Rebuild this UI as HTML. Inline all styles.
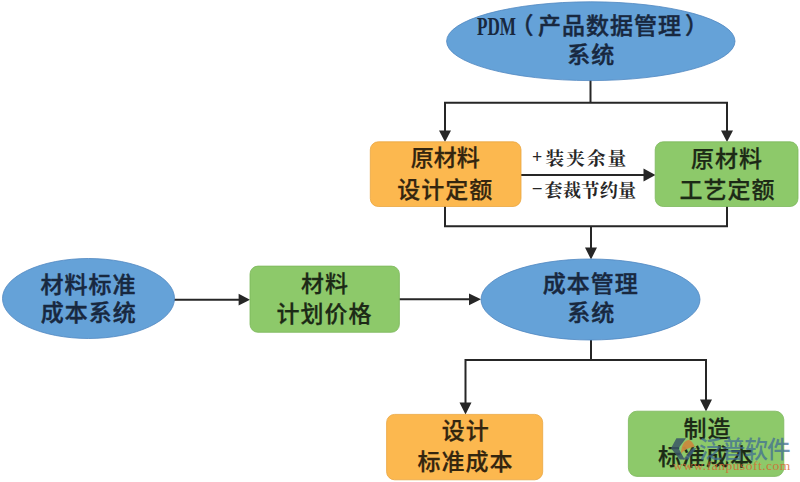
<!DOCTYPE html>
<html lang="zh-CN">
<head>
<meta charset="utf-8">
<title>成本管理系统流程图</title>
<style>
html,body{margin:0;padding:0;background:#fff;}
body{width:800px;height:482px;overflow:hidden;position:relative;}
svg{position:absolute;left:0;top:0;display:block;}
.hei{font-family:"Liberation Sans","Noto Sans CJK SC",sans-serif;font-size:23px;font-weight:500;letter-spacing:1px;stroke-width:0.45px;stroke-linejoin:round;}
.song{font-family:"Liberation Serif","Noto Serif CJK SC",serif;font-size:18px;font-weight:700;fill:#262626;}
.ln{stroke:#262626;stroke-width:2;fill:none;}
.ah{fill:#262626;}
.tb{fill:#18283f;stroke:#18283f;}
.tg{fill:#1c2a16;stroke:#1c2a16;stroke-width:0.25px;}
.to{fill:#33250f;stroke:#33250f;stroke-width:0.25px;}
</style>
</head>
<body>
<svg width="800" height="482" viewBox="0 0 800 482">
  <rect width="800" height="482" fill="#ffffff"/>

  <!-- connectors -->
  <g class="ln">
    <path d="M590.5 80 V103"/>
    <path d="M445 132 V102.8 H727 V132"/>
    <path d="M520 175 H646"/>
    <path d="M445 206 V226.3 H727 V206"/>
    <path d="M591 226.3 V250"/>
    <path d="M174 299.7 H240"/>
    <path d="M399 299.3 H472"/>
    <path d="M591 339 V360"/>
    <path d="M465.5 404 V360 H706 V402"/>
  </g>
  <g class="ah">
    <path d="M439 130.5 L451 130.5 L445 142 Z"/>
    <path d="M721 130.5 L733 130.5 L727 142 Z"/>
    <path d="M643.5 168.5 L643.5 181.5 L655.5 175 Z"/>
    <path d="M585 247.5 L597 247.5 L591 259.5 Z"/>
    <path d="M238.6 293.8 L238.6 305.6 L250 299.7 Z"/>
    <path d="M469 293.4 L469 305.2 L481 299.3 Z"/>
    <path d="M459.5 402.5 L471.5 402.5 L465.5 414.5 Z"/>
    <path d="M700 399.5 L712 399.5 L706 411.5 Z"/>
  </g>

  <!-- shapes -->
  <ellipse cx="590.8" cy="41.2" rx="144.2" ry="39.4" fill="#65a2d8" stroke="#4f87c0" stroke-width="0.8"/>
  <rect x="370.3" y="141.8" width="150.7" height="64.7" rx="8" fill="#fcb84f" stroke="#eaa640" stroke-width="0.8"/>
  <rect x="655.2" y="141.8" width="142.8" height="64.7" rx="8" fill="#8dc96a" stroke="#7cb85c" stroke-width="0.8"/>
  <ellipse cx="88.5" cy="298.5" rx="86" ry="40" fill="#65a2d8" stroke="#4f87c0" stroke-width="0.8"/>
  <rect x="250" y="266.1" width="149.4" height="66.2" rx="8" fill="#8dc96a" stroke="#7cb85c" stroke-width="0.8"/>
  <ellipse cx="590.5" cy="299.5" rx="109.5" ry="40.5" fill="#65a2d8" stroke="#4f87c0" stroke-width="0.8"/>
  <rect x="386.6" y="414.4" width="156.1" height="65.4" rx="8" fill="#fcb84f" stroke="#eaa640" stroke-width="0.8"/>
  <rect x="628.4" y="411.2" width="155.4" height="65.2" rx="8.5" fill="#8dc96a" stroke="#7cb85c" stroke-width="0.8"/>

  <!-- labels -->
  <g class="hei" text-anchor="middle">
    <g class="tb">
      <text x="496.5" y="35" textLength="39" lengthAdjust="spacingAndGlyphs" font-family="'Liberation Serif',serif" font-size="25" font-weight="700" letter-spacing="0" stroke="none">PDM</text>
      <text y="34.3" text-anchor="start"><tspan x="510.5">（</tspan><tspan x="538">产品数据管理</tspan><tspan x="685">）</tspan></text>
      <text x="591.2" y="63.1">系统</text>
      <text x="88.6" y="293.2">材料标准</text>
      <text x="88.8" y="320.9">成本系统</text>
      <text x="590.7" y="291.9">成本管理</text>
      <text x="591.3" y="320.7">系统</text>
    </g>
    <g class="to">
      <text x="445.2" y="166.2" letter-spacing="0">原材料</text>
      <text x="445.3" y="197.8">设计定额</text>
      <text x="465.7" y="439.2">设计</text>
      <text x="465.5" y="470">标准成本</text>
    </g>
    <g class="tg">
      <text x="727" y="167.2">原材料</text>
      <text x="727.5" y="198.4">工艺定额</text>
      <text x="324.9" y="292.1">材料</text>
      <text x="324.5" y="321.6">计划价格</text>
      <text x="707.4" y="437">制造</text>
      <text x="706.1" y="464.5">标准成本</text>
    </g>
  </g>
  <g class="song">
    <text x="532" y="163.2">+</text>
    <text x="545.5" y="165" font-size="18.6" letter-spacing="2.1">装夹余量</text>
    <text x="531.8" y="195.4" font-size="19">−</text>
    <text x="544.6" y="197" letter-spacing="0.35">套裁节约量</text>
  </g>

  <!-- watermark -->
  <g>
    <path d="M676.4 438.2 L686 438.2 L678.5 448.2 L684.7 459.4 L679.8 459.4 L671 448.2 Z" fill="#3a5566" opacity="0.85"/>
    <path d="M683.1 459.4 L688 459.4 L696.4 448 L692.2 448.4 Z" fill="#3f5f80" opacity="0.8"/>
    <path d="M681 453.6 C681.3 448.5 682.3 445 683.9 442.8 C685.3 441 687 440 688.9 439.9 C691.5 440.6 693.6 443.2 694.7 446.9 C689 447.2 684.4 449.6 681 453.6 Z" fill="#c98a3e" opacity="0.95"/>
    <text x="699" y="458.3" font-family="'Liberation Sans','Noto Sans CJK SC',sans-serif" font-size="23.5" font-weight="500" letter-spacing="-0.8" fill="#3f6b95" opacity="0.72">泛普软件</text>
    <text x="673" y="469.8" font-family="'Liberation Serif',serif" font-size="13.5" font-weight="400" letter-spacing="0.5" fill="#d9662f" opacity="0.8">www.fanpusoft.com</text>
  </g>
</svg>
</body>
</html>
